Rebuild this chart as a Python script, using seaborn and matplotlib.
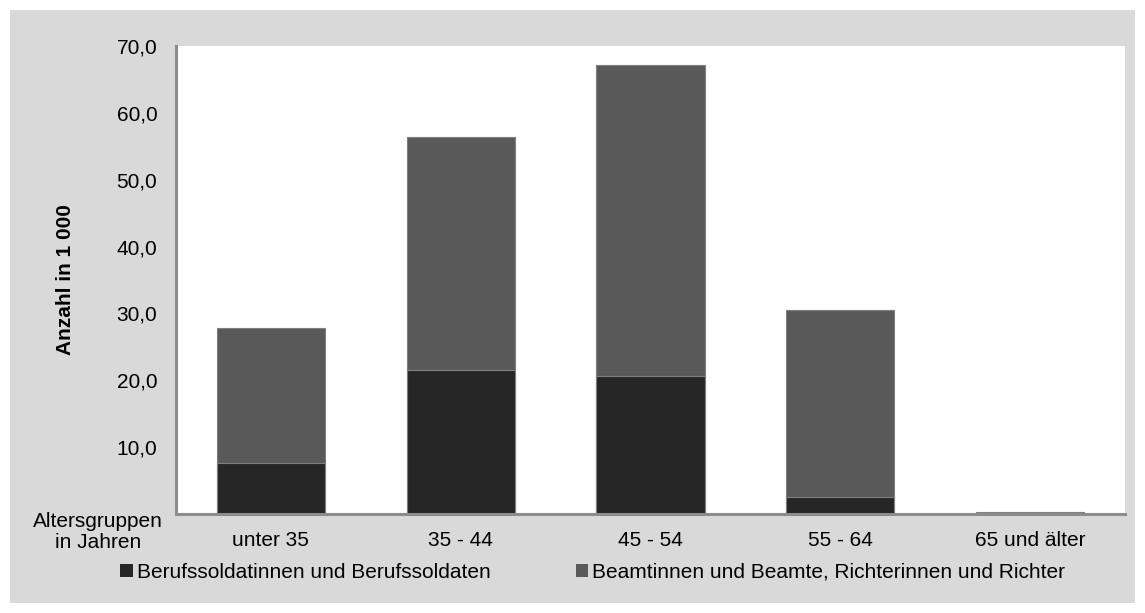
import matplotlib
matplotlib.use("Agg")
import matplotlib.pyplot as plt
from matplotlib.patches import Rectangle, Patch
from matplotlib.ticker import FuncFormatter
import numpy as np
import pandas as pd
import seaborn as sns

# Altersgruppen und Werte (Anzahl in 1 000)
altersgruppen = ["unter 35", "35 - 44", "45 - 54", "55 - 64", "65 und älter"]
berufssoldaten = [7.7, 21.6, 20.6, 2.5, 0.0]
beamte_richter = [20.1, 34.8, 46.5, 28.0, 0.3]
y_ticks = [10, 20, 30, 40, 50, 60, 70]

serie_soldaten = "Berufssoldatinnen und Berufssoldaten"
serie_beamte = "Beamtinnen und Beamte, Richterinnen und Richter"

farbe_soldaten = "#262626"
farbe_beamte = "#595959"
farbe_achse = "#8c8c8c"
farbe_panel = "#d9d9d9"

sns.set_theme(style="white")
plt.rcParams["font.family"] = ["Liberation Sans", "DejaVu Sans"]
plt.rcParams["font.size"] = 15
plt.rcParams["text.color"] = "black"
plt.rcParams["axes.labelcolor"] = "black"

df = pd.DataFrame({
    "gruppe": altersgruppen,
    "soldaten": berufssoldaten,
    "beamte": beamte_richter,
})
df["gesamt"] = df["soldaten"] + df["beamte"]

W, H = 1145, 613
fig = plt.figure(figsize=(W / 100, H / 100), dpi=100)
fig.patch.set_facecolor("white")

# grauer Hintergrund des Diagramms
fig.patches.append(Rectangle((10 / W, 10 / H), (W - 20) / W, (H - 20) / H,
                             transform=fig.transFigure, facecolor=farbe_panel,
                             edgecolor="none", zorder=-5))

ax = fig.add_axes([176 / W, 1 - 514 / H, 949 / W, 468 / H])
ax.set_facecolor("white")
ax.set_zorder(1)

# gestapelte Säulen: Gesamtsumme in Grau, darüber der Soldatenanteil in Schwarz
sns.barplot(data=df, x="gruppe", y="gesamt", color=farbe_beamte, width=0.57,
            saturation=1, edgecolor="#7f7f7f", linewidth=0.8, ax=ax)
sns.barplot(data=df, x="gruppe", y="soldaten", color=farbe_soldaten, width=0.57,
            saturation=1, edgecolor="#7f7f7f", linewidth=0.8, ax=ax)

ax.set_xlim(-0.5, len(altersgruppen) - 0.5)
ax.set_ylim(0, 70)
ax.set_yticks(y_ticks)
ax.yaxis.set_major_formatter(FuncFormatter(lambda v, p: f"{v:.1f}".replace(".", ",")))
ax.tick_params(axis="both", length=0, labelsize=15, colors="black")
ax.tick_params(axis="y", pad=13.5)
ax.tick_params(axis="x", pad=12)

for side in ("top", "right"):
    ax.spines[side].set_visible(False)
for side in ("left", "bottom"):
    ax.spines[side].set_color(farbe_achse)
    ax.spines[side].set_linewidth(2.2)

ax.set_xlabel("")
ax.set_ylabel("Anzahl in 1 000", fontsize=15, fontweight="bold")
ax.yaxis.set_label_coords(-0.106, 0.5)

fig.text(98 / W, 1 - 532 / H, "Altersgruppen\nin Jahren", ha="center", va="center",
         multialignment="center", fontsize=15, linespacing=1.15)

handles = [Patch(facecolor=farbe_soldaten, edgecolor="none", label=serie_soldaten),
           Patch(facecolor=farbe_beamte, edgecolor="none", label=serie_beamte)]
fig.legend(handles=handles, loc="center left", bbox_to_anchor=(120 / W, 1 - 572 / H),
           ncol=2, frameon=False, fontsize=15, handlelength=0.6, handleheight=0.6,
           handletextpad=0.2, columnspacing=4.1, borderpad=0, borderaxespad=0)

fig.savefig("out.png", dpi=100, facecolor=fig.get_facecolor())
